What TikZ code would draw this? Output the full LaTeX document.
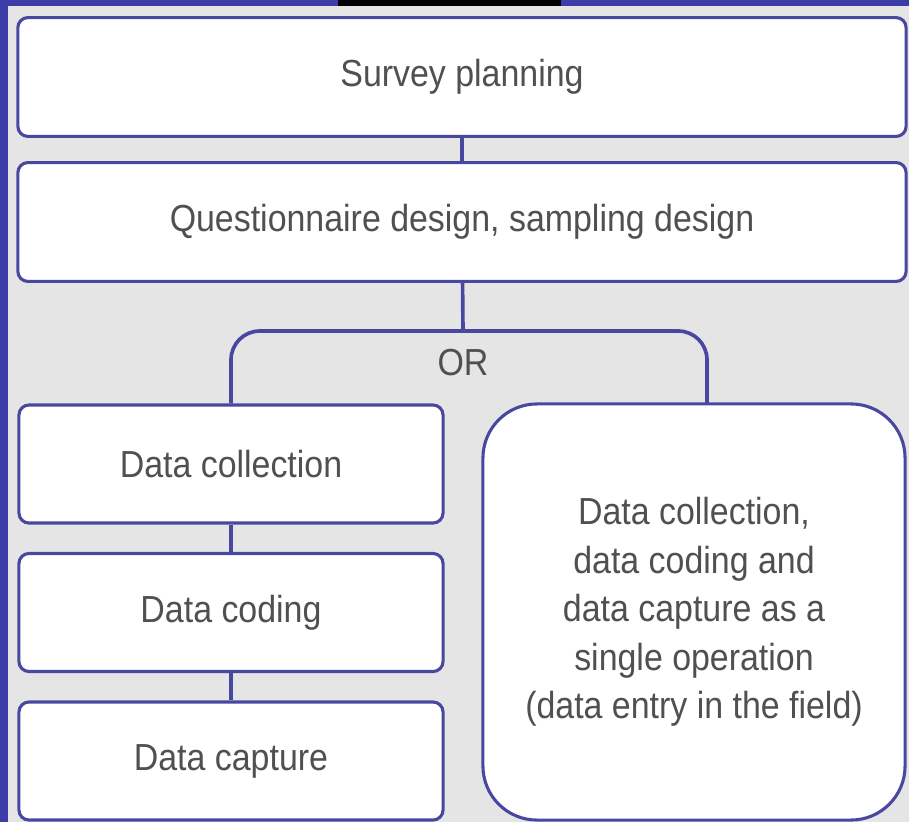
\documentclass[tikz,border=0pt]{standalone}
\usepackage{fontspec}
\setmainfont{Liberation Sans}[FakeStretch=0.9]
\definecolor{frameblue}{RGB}{61,61,170}
\definecolor{boxline}{RGB}{72,72,160}
\definecolor{paper}{RGB}{229,229,229}
\definecolor{ink}{RGB}{80,80,80}
\begin{document}
\begin{tikzpicture}[x=0.025cm,y=-0.025cm,
    stage/.style={draw=boxline,fill=white,line width=2.2pt,rounded corners=0.25cm,
      inner sep=0pt,text=ink,align=center,font=\fontsize{26.8}{34.5}\selectfont},
    wide/.style={stage,minimum width=22.2cm,minimum height=2.97cm},
    narrow/.style={stage,minimum width=10.6cm,minimum height=2.95cm},
    link/.style={draw=boxline,line width=2.6pt}]
  \useasboundingbox (0,0) rectangle (909,822);
  \fill[paper] (0,0) rectangle (909,822);
  \fill[frameblue] (0,0) rectangle (8,822);
  \fill[frameblue] (0,0) rectangle (909,6);
  \fill[black] (338,0) rectangle (561,6);
  \draw
    (462,77) node[wide] (survey){Survey planning}
    (462,222) node[wide] (design){Questionnaire design, sampling design}
    (231,464) node[narrow] (collect){Data collection}
    (231,612.5) node[narrow] (coding){Data coding}
    (231,761) node[narrow] (capture){Data capture}
    (694,612) node[stage,rounded corners=1.35cm,minimum width=10.55cm,minimum height=10.4cm]
      (single){Data collection,\\data coding and\\data capture as a\\single operation\\(data entry in the field)}
    (463,363) node[text=ink,font=\fontsize{26.8}{34.5}\selectfont] (or){OR};
  \coordinate (orjoin) at (463,331);
  \coordinate (orright) at (707,404);
  \begin{scope}[link]
    \draw (survey) to (design);
    \draw (design) to (orjoin);
    \draw[rounded corners=0.72cm] (collect.north) |- (orjoin) -| (orright);
    \draw (collect) to (coding);
    \draw (coding) to (capture);
  \end{scope}
\end{tikzpicture}
\end{document}
